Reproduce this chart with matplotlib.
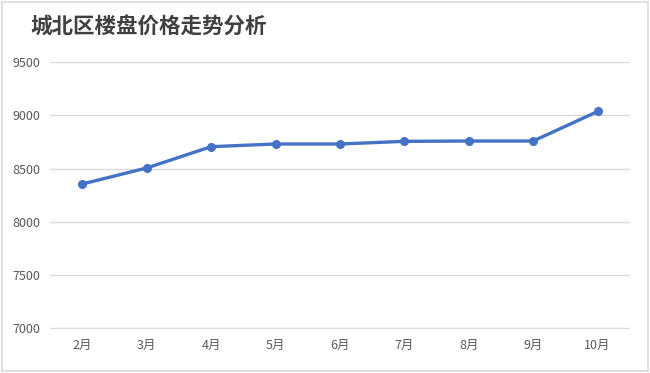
import matplotlib.pyplot as plt
from matplotlib.patches import Rectangle

plt.rcParams['font.family'] = ['Noto Sans CJK SC', 'DejaVu Sans']

# --- data ---
months = ["2月", "3月", "4月", "5月", "6月", "7月", "8月", "9月", "10月"]
prices = [8355, 8505, 8705, 8730, 8730, 8755, 8758, 8758, 9035]

fig = plt.figure(figsize=(6.5, 3.73), dpi=100)
ax = fig.add_axes([0.077, 0.118, 0.892, 0.716])

x = range(len(months))
ax.plot(x, prices, color="#4472C4", linewidth=2.4, marker="o", markersize=5.5)

ax.set_xlim(-0.5, len(months) - 0.5)
ax.set_ylim(6995, 9500)
ax.set_yticks([7000, 7500, 8000, 8500, 9000, 9500])
ax.set_xticks(list(x))
ax.set_xticklabels(months)

ax.grid(axis="y", color="#D9D9D9", linewidth=1)
ax.set_axisbelow(True)
for s in ax.spines.values():
    s.set_visible(False)
ax.tick_params(length=0, labelsize=9, colors="#595959")
ax.tick_params(axis="x", pad=7)
ax.tick_params(axis="y", pad=7)

# title
fig.text(0.046, 0.928, "城北区楼盘价格走势分析", fontsize=15.5, fontweight="bold",
         color="#404040", va="center", ha="left")

# outer frame
fig.patches.append(Rectangle((0.003, 0.005), 0.994, 0.99, transform=fig.transFigure,
                             fill=False, edgecolor="#D9D9D9", linewidth=1.2))

fig.savefig("out.png", dpi=100)
